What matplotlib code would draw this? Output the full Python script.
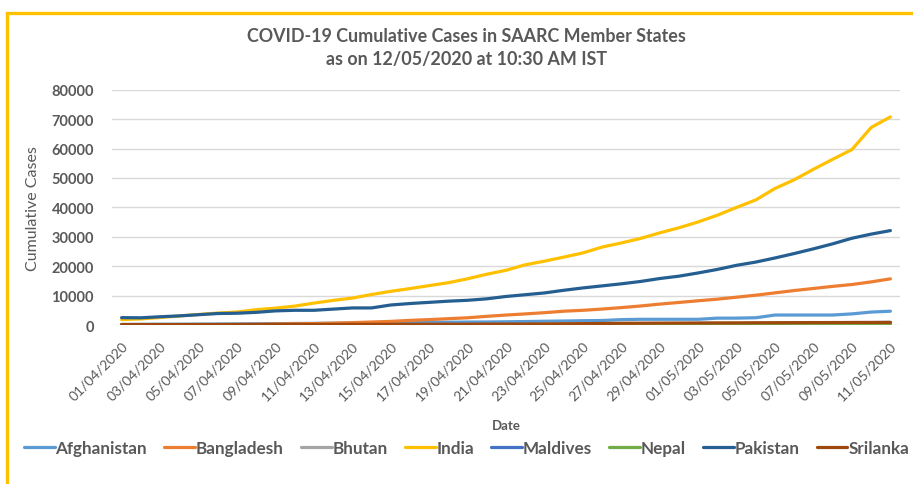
import numpy as np
import pandas as pd
import matplotlib
matplotlib.use('Agg')
import matplotlib.pyplot as plt
from matplotlib.patches import Rectangle

plt.rcParams['font.family'] = ['Lato', 'DejaVu Sans']

# dates 01/04/2020 .. 11/05/2020
dates = pd.date_range('2020-04-01', '2020-05-11').strftime('%d/%m/%Y').tolist()

afghanistan = [196, 235, 269, 270, 299, 337, 367, 423, 444, 521, 555, 607, 665, 714, 784, 840, 906, 933,
               996, 1026, 1092, 1176, 1279, 1351, 1463, 1531, 1828, 1939, 1939, 1939, 1939, 2335, 2335,
               2469, 3392, 3392, 3392, 3392, 3778, 4402, 4687]
bangladesh = [54, 56, 61, 70, 88, 123, 164, 218, 330, 424, 482, 621, 803, 1012, 1231, 1572, 1838, 2144,
              2456, 2948, 3382, 3772, 4186, 4689, 4998, 5416, 5913, 6462, 7103, 7667, 8238, 8790, 9455,
              10143, 10929, 11719, 12425, 13134, 13770, 14657, 15691]
bhutan = [4, 4, 4, 4, 4, 5, 5, 5, 5, 5, 5, 5, 5, 5, 5, 5, 5, 5, 5, 5, 5, 7, 7, 7, 7, 7, 7, 7, 7, 7, 7,
          7, 7, 7, 7, 7, 7, 7, 7, 7, 7]
india = [1834, 2069, 2547, 3072, 3577, 4067, 4421, 5194, 5734, 6412, 7447, 8356, 9152, 10363, 11439,
         12380, 13387, 14378, 15712, 17265, 18601, 20471, 21700, 23077, 24506, 26496, 27892, 29435,
         31332, 33050, 35043, 37336, 39980, 42533, 46433, 49391, 52952, 56342, 59662, 67152, 70756]
maldives = [18, 19, 19, 19, 19, 19, 19, 19, 19, 19, 19, 19, 19, 19, 20, 20, 20, 20, 21, 29, 52, 69,
            77, 108, 176, 177, 200, 245, 280, 468, 491, 519, 527, 588, 613, 640, 744, 787, 835, 835, 897]
nepal = [5, 5, 6, 9, 9, 9, 9, 9, 9, 9, 9, 12, 14, 16, 16, 16, 16, 30, 31, 31, 31, 42, 45, 48, 49, 52,
         52, 54, 57, 57, 59, 59, 75, 82, 99, 101, 102, 109, 110, 134, 217]
srilanka = [146, 148, 151, 159, 166, 176, 178, 185, 189, 190, 197, 198, 210, 218, 233, 238, 244, 254,
            271, 304, 310, 330, 368, 420, 460, 523, 588, 619, 649, 665, 690, 705, 718, 751, 771, 797,
            824, 835, 847, 863, 869]
pakistan = [2500, 2450, 2800, 3100, 3500, 3900, 4000, 4300, 4800, 5000, 5000, 5400, 5800, 5800, 6800,
            7300, 7700, 8100, 8400, 8900, 9700, 10300, 10900, 11800, 12600, 13300, 14000, 14800, 15800,
            16600, 17700, 18900, 20300, 21400, 22800, 24300, 25900, 27600, 29500, 30900, 32100]

series = [('Afghanistan', afghanistan, '#5B9BD5'),
          ('Bangladesh', bangladesh, '#ED7D31'),
          ('Bhutan', bhutan, '#A5A5A5'),
          ('India', india, '#FFC000'),
          ('Maldives', maldives, '#4472C4'),
          ('Nepal', nepal, '#70AD47'),
          ('Pakistan', pakistan, '#255E91'),
          ('Srilanka', srilanka, '#9E480E')]

grey = '#595959'

fig = plt.figure(figsize=(9.13, 4.85), dpi=100)
ax = fig.add_axes([112 / 913, 1 - 326 / 485, 788 / 913, 235.3 / 485])

x = np.arange(len(dates))
for name, vals, col in series:
    ax.plot(x, vals, color=col, lw=2.3, label=name, solid_capstyle='round')

ax.set_xlim(-0.5, len(dates) - 0.5)
ax.set_ylim(0, 80000)
ax.set_yticks(np.arange(0, 80001, 10000))
ax.set_yticklabels([str(v) for v in range(0, 80001, 10000)], fontsize=10.5, fontweight='bold', color=grey)
ax.set_xticks(x[::2])
ax.set_xticklabels(dates[::2], rotation=45, ha='right', rotation_mode='anchor', fontsize=10, color=grey)
ax.tick_params(axis='y', length=0, pad=13)
ax.tick_params(axis='x', length=0, pad=10)
ax.grid(axis='y', color='#D9D9D9', lw=1)
ax.set_axisbelow(True)
for s in ax.spines.values():
    s.set_visible(False)

ax.set_xlabel('Date', fontsize=9.5, fontweight='bold', color=grey, labelpad=12)
ax.set_ylabel('Cumulative Cases', fontsize=11.5, color=grey, labelpad=8)

fig.text(0.511, 1 - 37 / 485, 'COVID-19 Cumulative Cases in SAARC Member States', ha='center', va='center',
         fontsize=12.9, fontweight='bold', color=grey)
fig.text(0.511, 1 - 60 / 485, 'as on 12/05/2020 at 10:30 AM IST', ha='center', va='center',
         fontsize=12.9, fontweight='bold', color=grey)

leg = fig.legend(loc='center', bbox_to_anchor=(0.511, 1 - 449 / 485), ncol=8, frameon=False,
                 prop={'size': 12.3, 'weight': 'bold'}, handlelength=1.8, handletextpad=0.05,
                 columnspacing=1.0, labelcolor=grey)

# yellow chart border (cut off at right and bottom)
fig.add_artist(Rectangle((6.5 / 913, -0.1), 1.2, 1 - 13.5 / 485 + 0.1, transform=fig.transFigure,
                         fill=False, edgecolor='#FFC000', lw=2.4, clip_on=False))

fig.savefig('out.png', dpi=100)
